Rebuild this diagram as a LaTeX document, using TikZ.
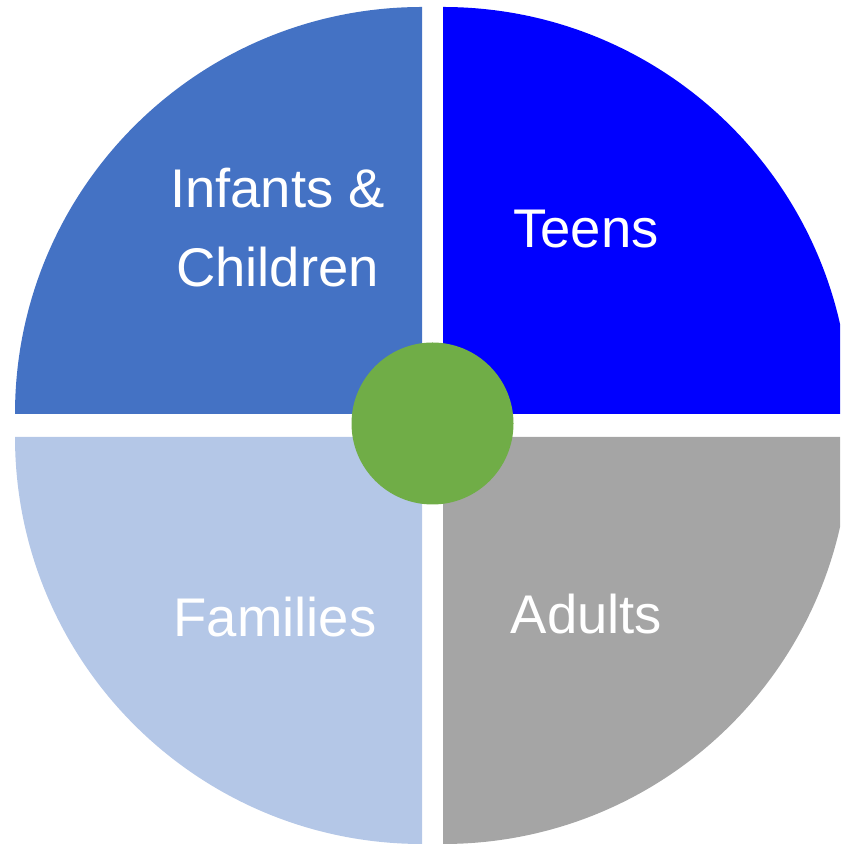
\documentclass[tikz,border=0pt]{standalone}
\usepackage{fontspec}
\setmainfont{Liberation Sans}
\definecolor{infantblue}{HTML}{4472C4}
\definecolor{teenblue}{HTML}{0000FF}
\definecolor{familyblue}{HTML}{B4C7E7}
\definecolor{adultgrey}{HTML}{A5A5A5}
\definecolor{hubgreen}{HTML}{70AD47}
\begin{document}
\begin{tikzpicture}[x=0.02cm,y=0.02cm,
    quadtext/.style={text=white,font=\fontsize{31}{45}\selectfont,align=center,inner sep=0pt}]
  \useasboundingbox (0,0) rectangle (840,844);
  \clip (0,0) rectangle (840,844);
  \fill[infantblue] (422,430) -- ++(-407,0) arc (180:90:407) -- cycle;
  \fill[teenblue] (443,430) -- ++(0,407) arc (90:0:407) -- cycle;
  \fill[familyblue] (422,407) -- ++(0,-407) arc (270:180:407) -- cycle;
  \fill[adultgrey] (443,407) -- ++(407,0) arc (0:-90:407) -- cycle;
  \fill[hubgreen] (432.5,420.5) circle (81);
  \node[quadtext,anchor=base] (infants) at (277.5,557.3) {Infants \&\\Children};
  \node[quadtext,anchor=base] (teens) at (586,596.7) {Teens};
  \node[quadtext,anchor=base] (families) at (275,207.3) {Families};
  \node[quadtext,anchor=base] (adults) at (586.5,210.7) {Adults};
\end{tikzpicture}
\end{document}
